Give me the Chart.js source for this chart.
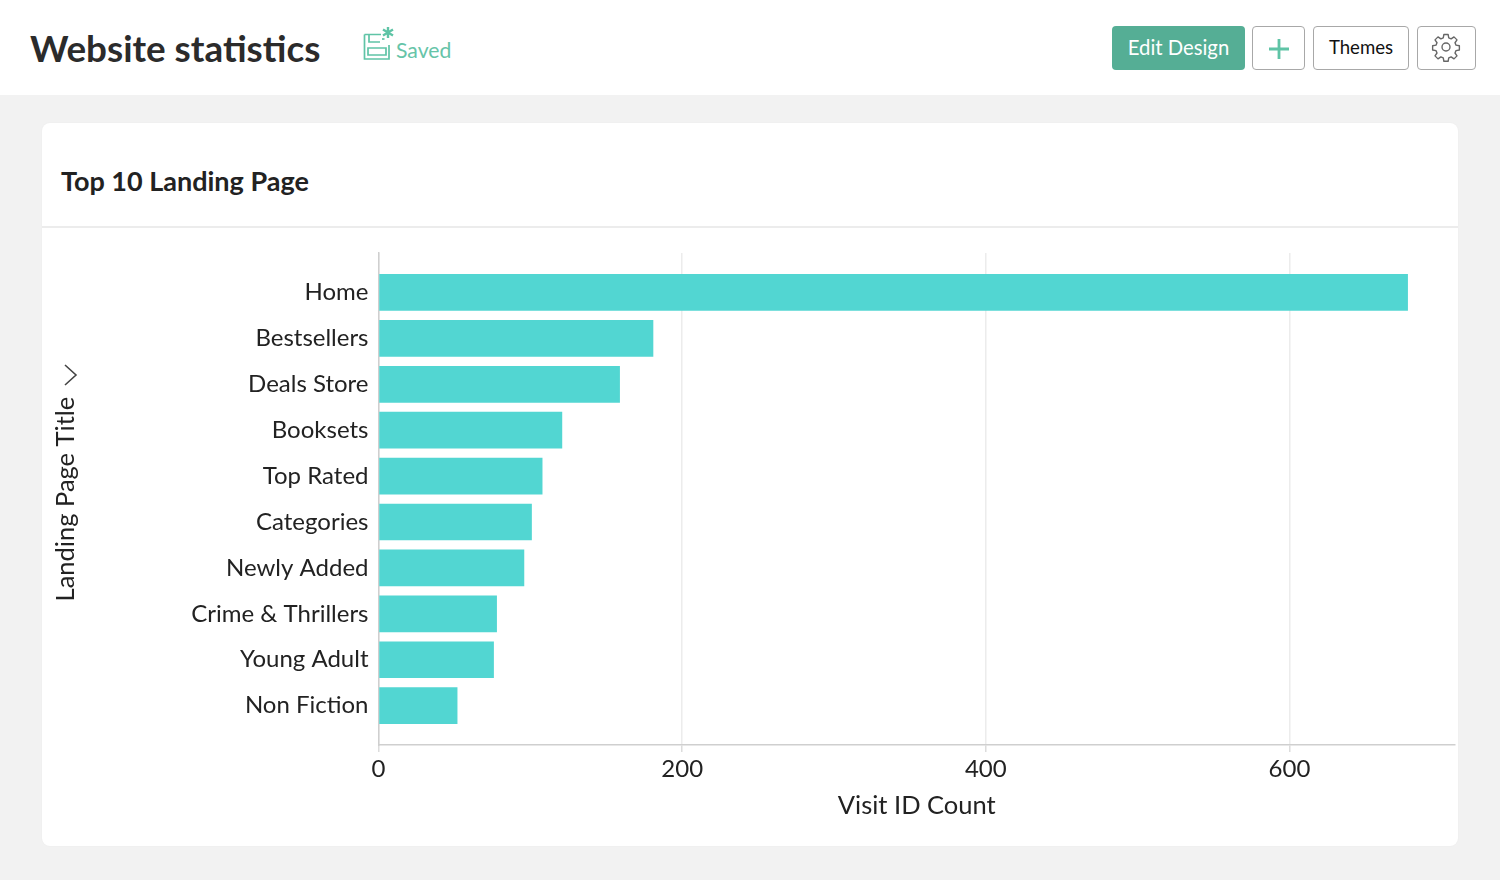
<!DOCTYPE html>
<html><head><meta charset="utf-8">
<script src="https://cdn.jsdelivr.net/npm/chart.js@4"></script>
<style>
html,body{margin:0;padding:0;width:1500px;height:880px;overflow:hidden;background:#f2f2f2;font-family:Lato,sans-serif}
#hdr{position:absolute;left:0;top:0;width:1500px;height:95px;background:#fff}
#ttl{position:absolute;left:30px;top:25px;font:700 36.8px Lato;color:#2b2b2b;white-space:nowrap;line-height:46px}
#saved{position:absolute;left:396px;top:35px;font:400 21.2px Lato;color:#66c4a8;line-height:30px}
#ico{position:absolute;left:362px;top:26px}
.btn{position:absolute;top:26px;height:42px;box-sizing:content-box;border:1.5px solid #a8a8a8;border-radius:4px;background:#fff;font:400 18.6px Lato;color:#111;text-align:center;line-height:40px}
#edit{left:1112px;width:133px;height:44px;border:0;background:#55ae95;color:#fff;line-height:42px;font-size:20.3px;border-radius:4px}
#plus{left:1252px;width:51px}
#themes{left:1313px;width:94px}
#gear{left:1417px;width:57px}
#card{position:absolute;left:42px;top:123px;width:1415.5px;height:723px;background:#fff;border-radius:8px;box-shadow:0 0 2px rgba(0,0,0,.04)}
#sep{position:absolute;left:42px;top:226px;width:1415.5px;height:2px;background:#ececec}
#cardT{position:absolute;left:61px;top:162px;font:700 27px Lato;color:#222;line-height:38px;white-space:nowrap}
#chev{position:absolute;left:60px;top:362px}
canvas{position:absolute;left:0;top:0}
</style></head><body>
<div id="hdr"></div>
<div id="ttl">Website statistics</div>
<svg id="ico" width="34" height="36" viewBox="0 0 34 36" fill="none" stroke="#5fc4a6" stroke-width="1.7">
<path d="M2.5 8.5H19M2.5 8.5V33H27V19"/><path d="M7 9V16H18"/><path d="M6 22H24V29H6Z"/><path d="M20 13h2.5"/>
<path d="M26 1V12M21 3.5L31 9.5M31 3.5L21 9.5" stroke-width="2.4"/></svg>
<div id="saved">Saved</div>
<div class="btn" id="edit">Edit Design</div>
<div class="btn" id="plus"><svg width="22" height="22" viewBox="0 0 22 22" style="margin-top:11px" stroke="#5fc4a6" stroke-width="2.8"><path d="M11 1V21M1 11H21"/></svg></div>
<div class="btn" id="themes">Themes</div>
<div class="btn" id="gear"><svg width="30" height="30" viewBox="0 0 24 24" style="margin-top:5px;margin-left:-1px" fill="none" stroke="#666" stroke-width="1.1"><circle cx="12" cy="12" r="3.2"/><path d="M10.3 2h3.4l.5 2.7 1.9.8 2.3-1.6 2.4 2.4-1.6 2.3.8 1.9 2.7.5v3.4l-2.7.5-.8 1.9 1.6 2.3-2.4 2.4-2.3-1.6-1.9.8-.5 2.7h-3.4l-.5-2.7-1.9-.8-2.3 1.6-2.4-2.4 1.6-2.3-.8-1.9-2.7-.5v-3.4l2.7-.5.8-1.9-1.6-2.3 2.4-2.4 2.3 1.6 1.9-.8z" stroke-linejoin="round"/></svg></div>
<div id="card"></div><div id="sep"></div>
<div id="cardT">Top 10 Landing Page</div>
<canvas id="c" width="1500" height="880"></canvas>
<svg id="chev" width="20" height="26" viewBox="0 0 20 26" fill="none" stroke="#444" stroke-width="1.6"><path d="M5 3L16 13L5 23"/></svg>
<script>
const categories = ["Home","Bestsellers","Deals Store","Booksets","Top Rated","Categories","Newly Added","Crime & Thrillers","Young Adult","Non Fiction"];
const visitCounts = [678,181,159,121,108,101,96,78,76,52];
const xTicks = [0,200,400,600];
const xTitle = "Visit ID Count";
const yTitle = "Landing Page Title";

const font = {family:"Lato", size:24};
new Chart(document.getElementById('c'), {
  type:'bar',
  data:{datasets:[{
    data:visitCounts.map((v,i)=>({x:v,y:i})),
    backgroundColor:'#52d6d2', borderWidth:0,
    barPercentage:0.8, categoryPercentage:1
  }]},
  options:{
    indexAxis:'y', responsive:false, animation:false, devicePixelRatio:1,
    layout:{padding:{left:50,right:45,top:253,bottom:59}},
    plugins:{legend:{display:false},tooltip:{enabled:false}},
    scales:{
      x:{type:'linear',min:0,max:709,position:'bottom',
        afterBuildTicks:s=>{s.ticks=xTicks.map(v=>({value:v}));},
        grid:{color:'#ececec',lineWidth:1.5,tickLength:7,tickColor:'#dcdcdc'},
        border:{color:'#cfcfcf',width:1.5},
        ticks:{color:'#222',font,padding:3,maxRotation:0},
        title:{display:true,text:xTitle,color:'#222',font:{family:"Lato",size:25.5},padding:{top:3.5,bottom:0}}
      },
      y:{type:'linear',reverse:true,offset:false,min:-0.859,max:9.859,
        afterBuildTicks:s=>{s.ticks=categories.map((_,i)=>({value:i}));},
        afterFit:s=>{s.width=328.5;},
        grid:{display:false,offset:false},
        border:{color:'#cfcfcf',width:1.5},
        ticks:{color:'#222',font,padding:2,autoSkip:false,callback:v=>categories[v]},
        title:{display:true,text:yTitle,color:'#222',font:{family:"Lato",size:25.5},padding:{top:0,bottom:0}}
      }
    }
  }
});
</script>
</body></html>
